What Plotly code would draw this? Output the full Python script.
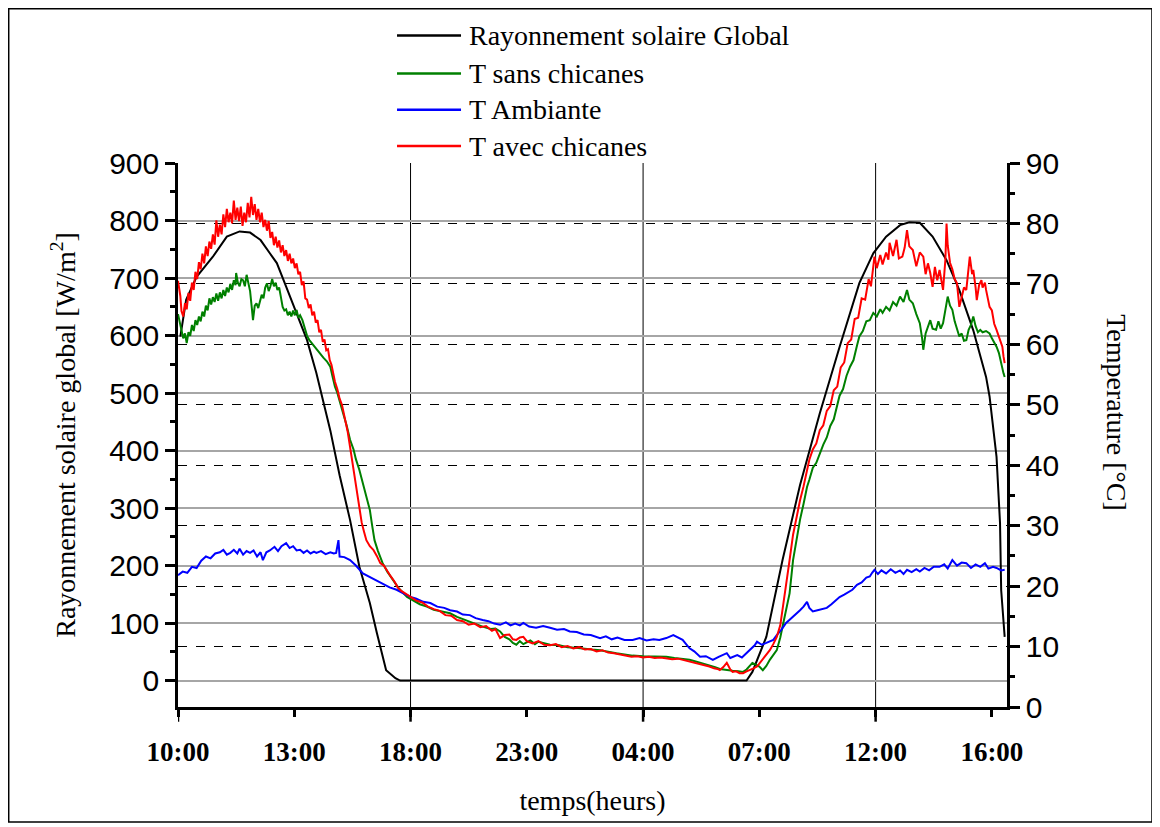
import plotly.graph_objects as go

# x positions are expressed in graduation units of the time axis (0 = 10:00 ... 7 = 16:00)
tick_pos = [0, 1, 2, 3, 4, 5, 6, 7]
tick_text = ["10:00", "13:00", "18:00", "23:00", "04:00", "07:00", "12:00", "16:00"]

# Rayonnement solaire global [W/m2]
ray_x = [0.02, 0.07, 0.16, 0.30, 0.42, 0.53, 0.62, 0.71, 0.79, 0.85, 0.93, 1.02, 1.11, 1.19,
         1.31, 1.39, 1.48, 1.56, 1.65, 1.71, 1.79, 1.87, 1.91, 4.89, 4.94, 5.06, 5.20, 5.35,
         5.52, 5.69, 5.86, 5.98, 6.09, 6.21, 6.29, 6.38, 6.49, 6.61, 6.72, 6.84, 6.95, 6.98,
         7.04, 7.07, 7.08, 7.11]
ray_y = [598, 662, 702, 737, 772, 781, 779, 766, 743, 726, 685, 638, 592, 535,
         435, 357, 279, 198, 135, 83, 18, 4, 0, 0, 15, 76, 210, 340,
         465, 580, 691, 743, 772, 792, 797, 796, 772, 731, 679, 609, 528, 494,
         389, 274, 157, 76]

# T avec chicanes [°C]
tavec_x = [0.00, 0.02, 0.03, 0.045, 0.06, 0.075, 0.09, 0.105, 0.12, 0.135, 0.15, 0.165, 0.18, 0.195,
           0.21, 0.225, 0.24, 0.255, 0.27, 0.285, 0.30, 0.315, 0.33, 0.345, 0.36, 0.375, 0.39, 0.405,
           0.42, 0.435, 0.45, 0.465, 0.48, 0.495, 0.51, 0.525, 0.54, 0.555, 0.57, 0.585, 0.60, 0.615,
           0.63, 0.645, 0.66, 0.675, 0.69, 0.705, 0.72, 0.735, 0.75, 0.765, 0.78, 0.795, 0.81, 0.825,
           0.84, 0.855, 0.87, 0.885, 0.90, 0.915, 0.93, 0.945, 0.96, 0.975, 0.99, 1.005, 1.02, 1.035,
           1.05, 1.065, 1.08, 1.095, 1.11, 1.125, 1.14, 1.155, 1.17, 1.185, 1.20, 1.215, 1.23, 1.245,
           1.26, 1.275, 1.29, 1.305, 1.32, 1.335, 1.35, 1.37, 1.39, 1.41, 1.44, 1.46, 1.48, 1.50,
           1.52, 1.54, 1.56, 1.58, 1.60, 1.62, 1.65, 1.68, 1.71, 1.74, 1.77, 1.80, 1.83, 1.86,
           1.89, 1.92, 1.95, 2.00, 2.05, 2.10, 2.15, 2.20, 2.25, 2.30, 2.35, 2.40, 2.45, 2.50,
           2.55, 2.60, 2.65, 2.70, 2.73, 2.77, 2.81, 2.85, 2.88, 2.91, 2.94, 2.97, 3.00, 3.05,
           3.10, 3.15, 3.20, 3.25, 3.30, 3.35, 3.40, 3.45, 3.50, 3.55, 3.60, 3.65, 3.70, 3.75,
           3.80, 3.85, 3.90, 3.95, 4.00, 4.05, 4.10, 4.15, 4.20, 4.25, 4.30, 4.34, 4.38, 4.42,
           4.46, 4.50, 4.54, 4.57, 4.61, 4.64, 4.66, 4.69, 4.72, 4.75, 4.77, 4.80, 4.83, 4.86,
           4.89, 4.92, 4.95, 4.98, 5.00, 5.03, 5.06, 5.09, 5.12, 5.15, 5.18, 5.20, 5.23, 5.26,
           5.29, 5.32, 5.35, 5.38, 5.41, 5.43, 5.46, 5.49, 5.52, 5.55, 5.58, 5.61, 5.64, 5.67,
           5.70, 5.73, 5.76, 5.79, 5.82, 5.85, 5.88, 5.91, 5.94, 5.96, 5.99, 6.01, 6.04, 6.06,
           6.09, 6.11, 6.12, 6.15, 6.18, 6.20, 6.23, 6.25, 6.27, 6.29, 6.32, 6.34, 6.35, 6.38,
           6.41, 6.43, 6.45, 6.47, 6.49, 6.51, 6.53, 6.55, 6.57, 6.58, 6.60, 6.61, 6.62, 6.64,
           6.66, 6.68, 6.70, 6.71, 6.72, 6.74, 6.76, 6.78, 6.80, 6.81, 6.83, 6.84, 6.86, 6.87,
           6.89, 6.91, 6.92, 6.94, 6.95, 6.97, 6.98, 7.00, 7.02, 7.04, 7.06, 7.08, 7.09, 7.10,
           7.11]
tavec_y = [70.5, 68.0, 65.5, 64.6, 66.8, 65.8, 68.5, 67.2, 70.2, 69.0, 72.0, 70.8, 73.6, 72.4,
           75.0, 73.4, 76.2, 74.6, 77.0, 75.8, 78.2, 76.5, 80.5, 77.8, 79.8, 78.2, 81.5, 79.4,
           82.4, 80.2, 81.8, 80.0, 83.8, 80.6, 82.6, 80.4, 82.8, 79.6, 81.8, 80.2, 83.4, 81.0,
           84.4, 81.4, 83.2, 80.6, 82.4, 80.2, 81.8, 79.4, 80.6, 78.8, 80.4, 77.6, 78.6, 76.4,
           77.8, 76.0, 77.2, 75.2, 76.4, 74.6, 75.6, 73.8, 75.0, 73.4, 74.2, 72.6, 73.4, 71.6,
           72.0, 69.8, 70.4, 67.6, 67.4, 66.0, 66.6, 64.8, 65.4, 63.6, 64.0, 62.0, 62.4, 60.4,
           60.8, 59.0, 59.2, 57.4, 56.6, 55.2, 53.8, 52.6, 51.0, 50.0, 47.5, 45.5, 43.0, 40.5,
           37.5, 35.0, 32.5, 30.5, 29.0, 27.6, 26.6, 26.0, 25.0, 23.8, 23.4, 22.4, 21.6, 20.8,
           19.8, 19.2, 18.8, 18.2, 17.6, 17.3, 16.6, 16.2, 15.9, 15.2, 15.1, 14.4, 14.2, 13.6,
           13.8, 13.2, 13.4, 12.6, 12.9, 11.4, 11.9, 12.0, 11.2, 11.1, 11.5, 11.6, 10.9, 10.5,
           10.9, 10.3, 10.2, 10.4, 9.9, 10.1, 9.7, 9.9, 9.5, 9.6, 9.2, 9.4, 9.0, 8.9,
           8.7, 8.6, 8.3, 8.4, 8.2, 8.3, 8.1, 8.2, 8.1, 7.9, 8.0, 7.8, 7.6, 7.5,
           7.3, 7.1, 6.8, 6.7, 6.4, 6.3, 6.1, 6.6, 7.3, 6.2, 5.8, 5.9, 5.6, 5.6,
           5.9, 6.1, 6.4, 6.7, 7.2, 7.8, 8.6, 9.4, 10.4, 11.6, 13.5, 16.0, 20.0, 24.3,
           28.5, 31.5, 34.2, 36.5, 39.5, 40.9, 42.6, 43.6, 45.8, 46.6, 49.0, 49.8, 52.4, 53.0,
           56.2, 57.0, 60.2, 60.8, 64.2, 64.4, 67.6, 67.4, 70.8, 69.6, 74.5, 72.6, 74.8, 73.2,
           75.2, 74.0, 76.8, 74.6, 77.3, 74.2, 74.5, 76.0, 78.9, 76.2, 75.6, 74.0, 72.9, 75.2,
           74.5, 71.6, 73.4, 71.8, 69.5, 72.8, 70.6, 72.3, 69.6, 69.0, 74.0, 80.0, 76.4, 73.5,
           72.4, 70.8, 70.1, 67.4, 66.2, 67.8, 69.4, 69.0, 73.2, 74.5, 71.6, 72.3, 69.4, 67.3,
           69.8, 70.6, 69.4, 70.2, 69.0, 67.2, 66.2, 65.6, 63.4, 62.4, 61.2, 59.8, 59.6, 58.0,
           56.9]

# T sans chicanes [°C]
tsans_x = [0.00, 0.015, 0.03, 0.045, 0.06, 0.075, 0.09, 0.105, 0.12, 0.135, 0.15, 0.165, 0.18, 0.195,
           0.21, 0.225, 0.24, 0.255, 0.27, 0.285, 0.30, 0.315, 0.33, 0.345, 0.36, 0.375, 0.39, 0.405,
           0.42, 0.435, 0.45, 0.465, 0.48, 0.495, 0.50, 0.515, 0.53, 0.545, 0.56, 0.575, 0.59, 0.605,
           0.62, 0.635, 0.645, 0.66, 0.675, 0.69, 0.705, 0.72, 0.735, 0.75, 0.765, 0.78, 0.795, 0.81,
           0.825, 0.84, 0.855, 0.87, 0.885, 0.90, 0.915, 0.93, 0.945, 0.96, 0.975, 0.99, 1.005, 1.02,
           1.035, 1.05, 1.07, 1.09, 1.11, 1.13, 1.15, 1.17, 1.19, 1.22, 1.25, 1.28, 1.31, 1.33,
           1.35, 1.37, 1.39, 1.42, 1.45, 1.48, 1.51, 1.53, 1.56, 1.59, 1.62, 1.65, 1.67, 1.69,
           1.72, 1.76, 1.80, 1.85, 1.90, 1.97, 2.03, 2.08, 2.14, 2.20, 2.27, 2.34, 2.40, 2.47,
           2.54, 2.62, 2.69, 2.73, 2.77, 2.81, 2.85, 2.88, 2.91, 2.94, 2.97, 3.00, 3.03, 3.07,
           3.10, 3.14, 3.20, 3.28, 3.35, 3.42, 3.50, 3.56, 3.63, 3.70, 3.77, 3.84, 3.91, 4.00,
           4.10, 4.20, 4.27, 4.34, 4.40, 4.46, 4.52, 4.57, 4.62, 4.66, 4.72, 4.77, 4.82, 4.86,
           4.89, 4.92, 4.94, 4.97, 5.00, 5.03, 5.06, 5.09, 5.12, 5.15, 5.18, 5.20, 5.23, 5.26,
           5.29, 5.32, 5.35, 5.38, 5.41, 5.43, 5.46, 5.49, 5.52, 5.55, 5.58, 5.61, 5.64, 5.67,
           5.69, 5.72, 5.75, 5.78, 5.81, 5.84, 5.86, 5.89, 5.92, 5.95, 5.98, 6.01, 6.04, 6.06,
           6.09, 6.12, 6.15, 6.18, 6.21, 6.24, 6.27, 6.29, 6.32, 6.35, 6.38, 6.40, 6.41, 6.43,
           6.45, 6.47, 6.49, 6.52, 6.54, 6.56, 6.58, 6.60, 6.62, 6.64, 6.66, 6.68, 6.70, 6.72,
           6.74, 6.76, 6.78, 6.80, 6.82, 6.84, 6.86, 6.88, 6.90, 6.92, 6.95, 6.98, 7.00, 7.02,
           7.04, 7.06, 7.08, 7.09, 7.10, 7.11]
tsans_y = [65.0, 63.8, 62.6, 61.0, 61.8, 60.2, 62.0, 61.4, 63.2, 62.2, 64.0, 63.2, 64.6, 63.8,
           65.4, 64.6, 66.4, 65.6, 67.6, 66.6, 67.8, 67.0, 68.4, 67.2, 68.6, 67.6, 69.0, 68.0,
           69.4, 68.6, 70.0, 69.0, 70.6, 69.8, 71.8, 70.2, 69.6, 70.8, 70.6, 69.6, 71.5, 69.8,
           68.8, 66.0, 64.0, 66.4, 66.8, 66.0, 67.4, 68.2, 67.6, 69.4, 70.1, 68.8, 69.6, 70.8,
           69.6, 70.2, 69.0, 69.4, 67.8, 66.2, 65.6, 65.8, 64.8, 65.4, 64.6, 65.6, 64.8, 65.7,
           64.4, 64.8, 64.0, 62.6, 61.4, 60.7, 60.2, 59.8, 59.2, 58.6, 57.8, 57.2, 56.3, 54.6,
           53.0, 52.0, 50.8, 48.6, 46.6, 44.2, 42.6, 41.0, 39.2, 37.0, 34.8, 32.6, 30.0, 27.6,
           25.8, 23.8, 22.4, 21.0, 19.6, 18.2, 17.6, 17.0, 16.6, 16.1, 15.8, 15.5, 14.9, 14.4,
           13.8, 13.3, 12.9, 13.0, 12.5, 11.6, 11.2, 10.6, 10.3, 10.9, 10.4, 10.7, 11.0, 10.4,
           10.8, 10.6, 10.3, 10.2, 9.9, 9.8, 9.6, 9.5, 9.4, 9.1, 8.9, 8.7, 8.5, 8.4,
           8.3, 8.3, 8.1, 8.0, 7.8, 7.5, 7.2, 6.9, 6.6, 6.3, 6.2, 6.0, 5.9, 5.8,
           6.2, 6.9, 7.3, 7.0, 6.7, 6.1, 6.8, 7.8, 8.6, 9.4, 11.5, 13.3, 15.8, 18.8,
           24.3, 27.8, 31.0, 33.6, 36.4, 37.6, 39.6, 40.4, 42.0, 43.4, 44.6, 46.5, 47.6, 50.0,
           51.5, 52.6, 54.8, 56.3, 57.4, 59.8, 61.3, 62.2, 63.8, 64.0, 65.2, 64.6, 65.8, 65.2,
           66.2, 65.6, 67.0, 66.4, 67.9, 67.0, 69.0, 67.4, 66.8, 65.0, 63.5, 61.0, 59.1, 61.8,
           63.0, 64.0, 62.6, 62.4, 63.8, 62.6, 63.5, 65.6, 67.9, 66.4, 65.7, 63.8, 62.4, 61.3,
           61.8, 60.6, 60.7, 62.4, 63.2, 64.6, 63.0, 62.0, 62.4, 62.0, 62.2, 61.8, 61.0, 60.4,
           59.6, 58.6, 56.8, 55.8, 55.2, 54.6]

# T Ambiante [°C]
tamb_x = [0.00, 0.04, 0.08, 0.12, 0.16, 0.20, 0.24, 0.28, 0.32, 0.36, 0.39, 0.42, 0.45, 0.48,
          0.51, 0.53, 0.56, 0.59, 0.62, 0.65, 0.68, 0.71, 0.73, 0.76, 0.79, 0.83, 0.86, 0.89,
          0.93, 0.96, 0.99, 1.02, 1.05, 1.08, 1.11, 1.14, 1.17, 1.19, 1.23, 1.27, 1.31, 1.34,
          1.36, 1.38, 1.39, 1.43, 1.48, 1.53, 1.59, 1.64, 1.70, 1.76, 1.82, 1.88, 1.94, 2.00,
          2.05, 2.11, 2.17, 2.23, 2.29, 2.34, 2.40, 2.45, 2.51, 2.56, 2.62, 2.67, 2.72, 2.77,
          2.82, 2.86, 2.90, 2.94, 2.97, 3.02, 3.08, 3.14, 3.20, 3.26, 3.32, 3.37, 3.43, 3.49,
          3.55, 3.60, 3.63, 3.68, 3.73, 3.78, 3.84, 3.91, 3.97, 4.03, 4.09, 4.14, 4.20, 4.26,
          4.30, 4.34, 4.37, 4.40, 4.44, 4.49, 4.54, 4.60, 4.65, 4.69, 4.72, 4.75, 4.77, 4.81,
          4.85, 4.89, 4.93, 4.96, 4.98, 5.02, 5.06, 5.09, 5.12, 5.15, 5.19, 5.23, 5.27, 5.31,
          5.35, 5.38, 5.41, 5.43, 5.46, 5.50, 5.54, 5.58, 5.62, 5.66, 5.69, 5.73, 5.77, 5.80,
          5.84, 5.88, 5.92, 5.95, 5.97, 5.99, 6.02, 6.05, 6.09, 6.13, 6.17, 6.21, 6.24, 6.27,
          6.31, 6.35, 6.38, 6.42, 6.46, 6.50, 6.55, 6.59, 6.62, 6.66, 6.70, 6.74, 6.78, 6.82,
          6.86, 6.90, 6.94, 6.97, 7.01, 7.04, 7.08, 7.11]
tamb_y = [21.8, 22.4, 22.2, 23.2, 23.0, 24.2, 24.9, 24.6, 25.4, 25.6, 26.0, 25.2, 25.5, 26.0,
          25.4, 26.2, 25.2, 25.8, 25.5, 25.9, 24.9, 25.6, 24.3, 25.6, 25.9, 26.5, 25.8, 26.6,
          27.1, 26.3, 26.6, 25.9, 26.0, 25.5, 25.9, 25.4, 25.7, 25.5, 25.8, 25.3, 25.6, 25.4,
          25.5, 27.6, 24.9, 24.8, 24.3, 23.4, 22.1, 21.6, 21.0, 20.5, 19.8, 19.4, 18.8, 18.2,
          17.9, 17.4, 17.2, 16.6, 16.4, 16.0, 15.8, 15.3, 15.2, 14.7, 14.4, 14.2, 13.8, 13.6,
          14.0, 13.5, 13.8, 13.5, 13.9, 13.3, 13.1, 13.4, 13.1, 12.8, 12.9, 12.5, 12.4, 12.0,
          11.9, 11.6, 11.4, 11.7, 11.2, 11.5, 11.1, 11.1, 11.4, 11.0, 11.2, 11.1, 11.4, 11.9,
          11.5, 11.1, 10.4, 9.7, 9.2, 8.3, 8.4, 7.8, 8.3, 8.6, 8.9, 8.1, 8.3, 8.6,
          8.2, 8.9, 9.6, 10.2, 10.8, 10.3, 10.6, 10.9, 11.1, 11.9, 12.8, 13.9, 14.6, 15.2,
          16.0, 16.6, 17.4, 16.4, 15.8, 16.0, 16.2, 16.4, 17.0, 17.6, 18.2, 18.6, 19.0, 19.4,
          20.2, 20.6, 21.4, 21.6, 22.2, 22.7, 22.0, 22.6, 22.1, 22.8, 22.2, 22.6, 22.0, 22.7,
          22.3, 22.8, 22.4, 23.0, 22.6, 23.2, 23.2, 23.6, 22.9, 24.3, 23.4, 23.9, 23.8, 23.0,
          23.6, 23.2, 23.8, 22.9, 23.2, 23.0, 22.6, 22.7]

series_names = ["Rayonnement solaire Global", "T sans chicanes", "T Ambiante", "T avec chicanes"]
series_colors = ["#000000", "#008000", "#0000ff", "#ff0000"]

SERIF = "Liberation Serif"
SANS = "Liberation Sans"

fig = go.Figure()
fig.add_trace(go.Scatter(x=ray_x, y=ray_y, mode="lines", name=series_names[0],
                         line=dict(color=series_colors[0], width=2), yaxis="y"))
fig.add_trace(go.Scatter(x=tsans_x, y=tsans_y, mode="lines", name=series_names[1],
                         line=dict(color=series_colors[1], width=2), yaxis="y2"))
fig.add_trace(go.Scatter(x=tamb_x, y=tamb_y, mode="lines", name=series_names[2],
                         line=dict(color=series_colors[2], width=2), yaxis="y2"))
fig.add_trace(go.Scatter(x=tavec_x, y=tavec_y, mode="lines", name=series_names[3],
                         line=dict(color=series_colors[3], width=2), yaxis="y2"))

shapes = []
for k in [2, 4, 6]:
    shapes.append(dict(type="line", xref="x", yref="paper", x0=k, x1=k, y0=0, y1=1,
                       line=dict(color="black", width=1), layer="below"))
for k in [0, 2, 4, 6]:
    shapes.append(dict(type="line", xref="x", yref="paper", x0=k, x1=k, y0=0, y1=-0.027,
                       line=dict(color="black", width=2.5)))
# outer frame
shapes.append(dict(type="rect", xref="paper", yref="paper", x0=-0.2042, x1=1.1749,
                   y0=-0.2114, y1=1.2835, line=dict(color="black", width=1.5)))

# hand-placed legend (long line samples, tight row spacing like the original)
annotations = []
leg_rows = [1.2344, 1.1647, 1.0980, 1.0312]
for name, col, yy in zip(series_names, series_colors, leg_rows):
    shapes.append(dict(type="line", xref="paper", yref="paper", x0=0.2642, x1=0.3414,
                       y0=yy, y1=yy, line=dict(color=col, width=2.5)))
    annotations.append(dict(text=name, xref="paper", yref="paper", x=0.3492, y=yy,
                            xanchor="left", yanchor="middle", showarrow=False,
                            font=dict(family=SERIF, size=28, color="black")))

annotations.append(dict(text="Temperature [°C]", xref="paper", yref="paper", x=1.1327, y=0.542,
                        xanchor="center", yanchor="middle", textangle=90, showarrow=False,
                        font=dict(family=SERIF, size=28, color="black")))

fig.update_layout(
    width=1160, height=827,
    margin=dict(l=170, r=161, t=155, b=128, pad=0),
    paper_bgcolor="white", plot_bgcolor="white",
    showlegend=False,
    xaxis=dict(range=[0, 7.13], tickmode="array", tickvals=tick_pos, ticktext=tick_text,
               ticks="outside", ticklen=7, tickwidth=2.5, tickcolor="black",
               showline=True, linewidth=2.5, linecolor="black", showgrid=False, zeroline=False,
               tickfont=dict(family=SERIF, size=27, color="black", weight="bold"),
               ticklabelstandoff=12,
               title=dict(text="temps(heurs)", font=dict(family=SERIF, size=28, color="black"),
                          standoff=25)),
    yaxis=dict(range=[-46, 900], tick0=0, dtick=100,
               ticks="outside", ticklen=10, tickwidth=2.5, tickcolor="black",
               showline=True, linewidth=2.5, linecolor="black",
               showgrid=True, gridcolor="#a6a6a6", gridwidth=1.5, zeroline=False,
               tickfont=dict(family=SANS, size=30, color="black"),
               minor=dict(dtick=50, tick0=0, ticks="outside", ticklen=5, tickwidth=2.5,
                          tickcolor="black", showgrid=False),
               title=dict(text="Rayonnement solaire global [W/m<sup>2</sup>]",
                          font=dict(family=SERIF, size=28, color="black"), standoff=26)),
    yaxis2=dict(range=[0, 90], tick0=0, dtick=10, overlaying="y", side="right",
                ticks="outside", ticklen=10, tickwidth=2.5, tickcolor="black",
                showline=True, linewidth=2.5, linecolor="black",
                showgrid=True, gridcolor="black", gridwidth=1.2, griddash="dash", zeroline=False,
                tickfont=dict(family=SANS, size=30, color="black"),
                minor=dict(dtick=5, tick0=0, ticks="outside", ticklen=5, tickwidth=2.5,
                           tickcolor="black", showgrid=False)),
    shapes=shapes,
    annotations=annotations,
)

fig.write_html("out.html")
